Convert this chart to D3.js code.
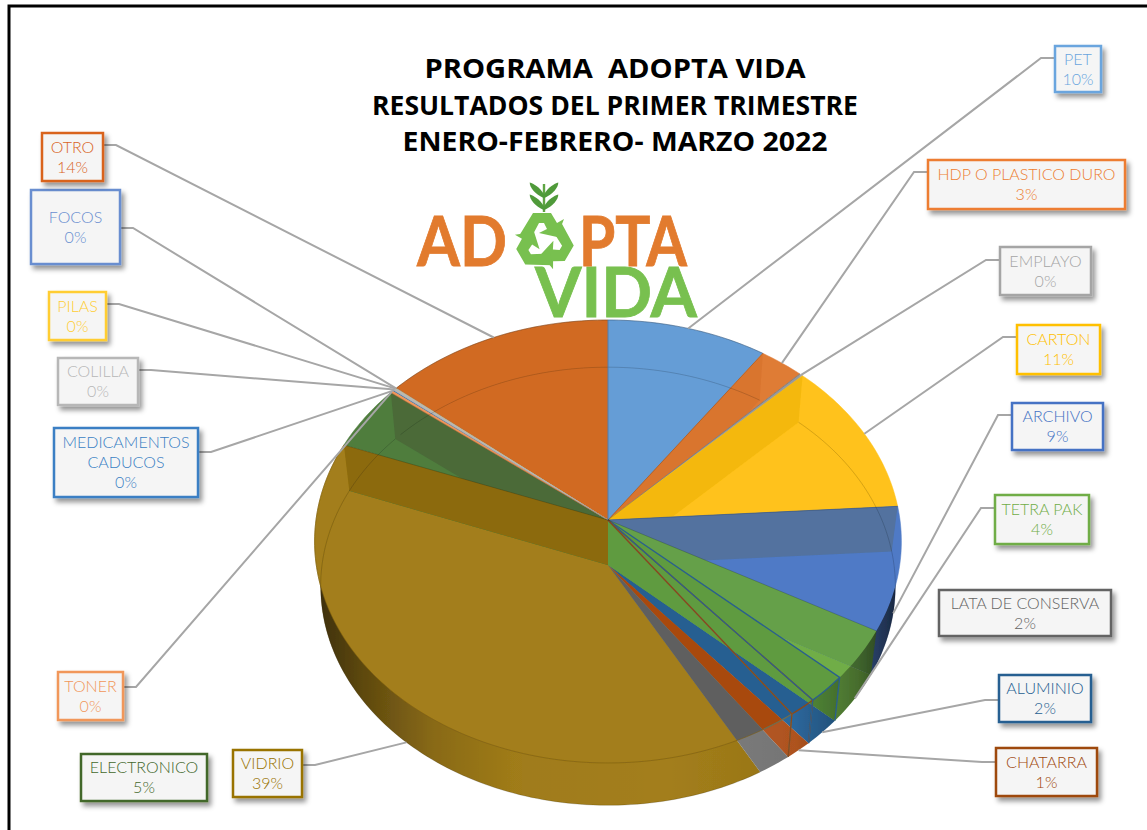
<!DOCTYPE html>
<html><head><meta charset="utf-8">
<script src="https://cdn.jsdelivr.net/npm/d3@7"></script>
<style>html,body{margin:0;padding:0;background:#fff;overflow:hidden}svg{display:block}</style>
</head><body><svg id="c" width="1147" height="830"></svg>
<script>
// ---- data ----
const categories = ["PET","HDP O PLASTICO DURO","EMPLAYO","CARTON","ARCHIVO","TETRA PAK","ALUMINIO","CHATARRA","LATA DE CONSERVA","VIDRIO","ELECTRONICO","TONER","MEDICAMENTOS CADUCOS","COLILLA","PILAS","FOCOS","OTRO"];
const values     = [9.7,2.7,0.2,11.4,9,3.7,2.05,1.4,1.75,38.85,4.8,0.15,0.1,0.15,0.025,0.025,14];
const labelLines = [["PET"],["HDP O PLASTICO DURO"],["EMPLAYO"],["CARTON"],["ARCHIVO"],["TETRA PAK"],["ALUMINIO"],["CHATARRA"],["LATA DE CONSERVA"],["VIDRIO"],["ELECTRONICO"],["TONER"],["MEDICAMENTOS","CADUCOS"],["COLILLA"],["PILAS"],["FOCOS"],["OTRO"]];
const edgeColors = ["#6AA5DE","#ED7D31","#A5A5A5","#FFC000","#4472C4","#70AD47","#255E91","#9E480E","#636363","#997300","#43682B","#F1975A","#3A7FC4","#B7B7B7","#FFCD33","#698ED0","#D9641F"];
const topColors  = ["#659DD6","#DF7B35","#A5A5A5","#FFC21A","#4F7AC6","#70AD47","#255E91","#A84A0E","#5F5F5F","#A37E1A","#4F7D3E","#F1975A","#2E75B6","#B7B7B7","#FFCD33","#698ED0","#D16B23"];
const sideColors = ["#659DD6","#DF7B35","#A5A5A5","#FFC21A","#4F7AC6","#70AD47","#2F6FA8","#BD5A22","#7F7F7F","#A37E1A","#4F7D3E","#F1975A","#2E75B6","#B7B7B7","#FFCD33","#698ED0","#D16B23"];
const wallColors = ["#5F97D0","#D9752F","#9A9A9A","#F4B80F","#52729F","#65A048","#5E9B3F",null,null,"#8C6A0B","#4B6B38",null,null,null,null,null,null];
const lineColors = [null,null,null,null,null,"#2F6A80","#2A5F8F","#8A4A1C","#6E6E50","#7A5C10",null,null,null,null,null,null,null];
// label boxes: x0,y0,x1,y1
const labelBoxes = [[1055,46,1101,92],[928,160,1125,209],[1000,247,1091,295],[1017,325,1100,374],[1012,403,1103,450],[995,495,1089,544],[999,675,1091,722],[996,748,1097,796],[939,590,1111,636],[233,750,302,797],[81,754,207,801],[58,672,123,720],[54,428,198,497],[58,358,138,405],[49,292,106,340],[31,190,120,264],[42,133,103,181]];
const leaderDrop = [12,12,13,12,12,13,25,14,0,15,0,15,24,12,12,38,12];
const hasLeader  = [1,1,1,1,1,1,1,1,0,1,0,1,1,1,1,1,1];
const titleLines = ["PROGRAMA  ADOPTA VIDA","RESULTADOS DEL PRIMER TRIMESTRE","ENERO-FEBRERO- MARZO 2022"];
const titleWidths = [381,486,425];

// ---- projection of the tilted transparent disc ----
const topRim = {cx:608,cy:520,R:292,ry:219.4,k:0.097};
const botRim = {cx:608,cy:565,R:286,ry:217,k:0.097};
const proj = (g,a)=>{const X=Math.sin(a),Z=Math.cos(a),d=1+g.k*Z;return [g.cx+g.R*X/d,g.cy-g.ry*Z/d];};
const arcPts = (g,a0,a1)=>{const n=Math.max(2,Math.ceil(Math.abs(a1-a0)/0.02));return d3.range(n+1).map(i=>proj(g,a0+(a1-a0)*i/n));};
const line = d3.line();
const wedge = (g,a0,a1)=>line([[g.cx,g.cy],...arcPts(g,a0,a1)])+"Z";
const ring = g=>line(arcPts(g,0,2*Math.PI))+"Z";

const arcs = d3.pie().sort(null).value(d=>d)(values);
const svg = d3.select("#c");
const defs = svg.append("defs");
const f = defs.append("filter").attr("id","sh").attr("x","-20%").attr("y","-20%").attr("width","150%").attr("height","150%");
f.append("feDropShadow").attr("dx",3).attr("dy",4).attr("stdDeviation",2.5).attr("flood-color","#000").attr("flood-opacity",.42);
defs.append("filter").attr("id","bl").append("feGaussianBlur").attr("stdDeviation",.45);
defs.append("clipPath").attr("id","inTop").append("path").attr("d",ring(topRim));
defs.append("clipPath").attr("id","outTop").append("path").attr("clip-rule","evenodd").attr("d","M0,0H1147V830H0Z"+ring(topRim));
const grad = defs.append("linearGradient").attr("id","sideG").attr("gradientUnits","userSpaceOnUse").attr("x1",318).attr("x2",900).attr("y1",0).attr("y2",0);
[[0,.62],[.08,.42],[.2,.16],[.34,.02],[.6,0],[.82,.08],[.93,.38],[1,.7]].forEach(s=>grad.append("stop").attr("offset",s[0]).attr("stop-color","#000").attr("stop-opacity",s[1]));

// frame
svg.append("path").attr("d","M9,830V6H1147").attr("fill","none").attr("stroke","#000").attr("stroke-width",3);

// ---- pie ----
const pie = svg.append("g").attr("filter","url(#bl)");
const paintFloor = i=>{
  const a=arcs[i];
  pie.append("path").attr("d",wedge(botRim,a.startAngle,a.endAngle)).attr("fill",sideColors[i]);
  pie.append("path").attr("d",wedge(botRim,a.startAngle,a.endAngle)).attr("fill",topColors[i]).attr("clip-path","url(#inTop)");
};
const paintTop = i=>{const a=arcs[i];pie.append("path").attr("d",wedge(topRim,a.startAngle,a.endAngle)).attr("fill",topColors[i]).attr("stroke",topColors[i]).attr("stroke-width",.5);};
const wallAt = (a,color)=>{const t=proj(topRim,a),b=proj(botRim,a);
  pie.append("path").attr("d",line([[topRim.cx,topRim.cy],t,b,[botRim.cx,botRim.cy]])+"Z").attr("fill",color);};

// vidrio first, then the far-left slices from back to front
paintTop(9); paintFloor(9);
[16,15,14,13,12,11,10].forEach(i=>{paintFloor(i);});
[16,15,14,13,12,11,10].forEach(i=>{paintTop(i);});
wallAt(arcs[10].endAngle,wallColors[10]);
// thin toner / colilla strips stay on top of the neighbouring wall edge
[11,13].forEach(paintTop);
wallAt(arcs[9].endAngle,wallColors[9]);
// right side from back to front
[0,1,2,3,4].forEach(i=>{paintTop(i);paintFloor(i);
  if(i>0) wallAt(arcs[i].startAngle,wallColors[i]);});
[5,6,7,8].forEach(paintFloor);
wallAt(arcs[5].startAngle,wallColors[5]);
wallAt(arcs[6].startAngle,wallColors[6]);

// dark shading on the outer side of the disc
pie.append("g").attr("clip-path","url(#outTop)").append("path").attr("d",ring(botRim)).attr("fill","url(#sideG)");

// thin rim lines
const rimStroke=(g,i,o)=>{const a=arcs[i];pie.append("path").attr("d",line(arcPts(g,a.startAngle,a.endAngle))).attr("fill","none").attr("stroke","#000").attr("stroke-opacity",o).attr("stroke-width",1);};
[0,3,4,9,10,16].forEach(i=>rimStroke(botRim,i,.16));
[16,0].forEach(i=>rimStroke(topRim,i,.25));
// outlines of the front slices
[5,6,7,8,9].forEach(i=>{
  const a=arcs[i],c=lineColors[i],t=proj(topRim,a.startAngle),b=proj(botRim,a.startAngle);
  if(i>5&&i<9){
    pie.append("path").attr("d",line([[topRim.cx,topRim.cy],t,b])).attr("fill","none").attr("stroke",c).attr("stroke-width",1.3);
  }
  if(i>5) pie.append("path").attr("d",line(arcPts(topRim,a.startAngle,a.endAngle))).attr("fill","none").attr("stroke",c).attr("stroke-width",i==9?.8:1.3).attr("stroke-opacity",i==9?.75:1);
});
// end of aluminio and chatarra
[6,7].forEach(i=>{const a=arcs[i],t=proj(topRim,a.endAngle),b=proj(botRim,a.endAngle);
  pie.append("path").attr("d",line([[topRim.cx,topRim.cy],t,b])).attr("fill","none").attr("stroke",lineColors[i]).attr("stroke-width",1.2);});
// soft radial edges
[0,1,3,4,9,10].forEach(i=>{const t=proj(topRim,arcs[i].endAngle);
  pie.append("path").attr("d",line([[topRim.cx,topRim.cy],t])).attr("fill","none").attr("stroke","#000").attr("stroke-opacity",.18).attr("stroke-width",1);});
pie.append("path").attr("d",line([[topRim.cx,topRim.cy-200],[topRim.cx,topRim.cy]])).attr("stroke","#4d6f99").attr("stroke-opacity",.7).attr("stroke-width",1);

// ---- logo ----
const logo = svg.append("g");
const logoFont = "Lato, 'Open Sans', sans-serif";
const orange="#E27B2E", green="#78C04F";
const logoText=(t,x,y,w,c)=>logo.append("text").attr("x",x).attr("y",y).attr("font-family",logoFont).attr("font-weight",700)
  .attr("font-size",69).attr("fill",c).attr("stroke",c).attr("stroke-width",.8).attr("textLength",w).attr("lengthAdjust","spacingAndGlyphs").text(t);
logoText("VIDA",535,317,162,green);
logoText("AD",417,266,90,orange);
logoText("PTA",579,266,108,orange);
const rec = logo.append("g").attr("transform","translate(544,241)");
[0,120,240].forEach(r=>rec.append("path").attr("transform",`rotate(${r})`).attr("fill",green)
  .attr("d","M-25,-5L-11,-28H7L13,-18L20,-22L13,-4L-5,-8L3,-12L0,-18H-5L-14,-1Z"));
const sp = logo.append("g").attr("fill","#4F9A3A");
sp.append("rect").attr("x",542.8).attr("y",184).attr("width",2.4).attr("height",28).attr("fill","#5FA544");
[[-1,191],[1,191],[-1,203],[1,203]].forEach(p=>sp.append("path")
  .attr("transform",`translate(544,${p[1]}) scale(${p[0]*1.3},1.2)`).attr("d","M0,3C3,-3 8,-6 11,-7C11,-3 7,3 0,6Z"));

// ---- title ----
svg.append("g").selectAll("text").data(titleLines).join("text")
  .attr("x",615).attr("y",(d,i)=>78+i*36.5).attr("text-anchor","middle")
  .attr("font-family","'Open Sans',sans-serif").attr("font-weight",700).attr("font-size",27)
  .attr("textLength",(d,i)=>titleWidths[i]).attr("lengthAdjust","spacingAndGlyphs")
  .style("white-space","pre").attr("fill","#000").text(d=>d);

// ---- leaders ----
const leaders = svg.append("g").attr("fill","none").attr("stroke","#A6A6A6").attr("stroke-width",2);
arcs.forEach((a,i)=>{
  if(!hasLeader[i]) return;
  const mid=(a.startAngle+a.endAngle)/2, frac=mid/(2*Math.PI);
  const g=(frac>.25&&frac<.75)?botRim:topRim, p=proj(g,mid), b=labelBoxes[i];
  const right=b[0]>608, sx=right?b[0]:b[2], ky=b[1]+leaderDrop[i];
  leaders.append("path").attr("d",line([[sx,ky],[sx+(right?-14:13),ky],p]));
});

// ---- labels ----
const lab = svg.append("g");
arcs.forEach((a,i)=>{
  const b=labelBoxes[i],cx=(b[0]+b[2])/2,cy=(b[1]+b[3])/2,c=edgeColors[i];
  lab.append("rect").attr("x",b[0]).attr("y",b[1]).attr("width",b[2]-b[0]).attr("height",b[3]-b[1])
    .attr("fill","#F5F5F5").attr("stroke",c).attr("stroke-width",2.5).attr("filter","url(#sh)");
  const ls=[...labelLines[i],Math.round(values[i])+"%"];
  ls.forEach((t,j)=>lab.append("text").attr("x",cx).attr("y",cy+(j-(ls.length-1)/2)*20+5.5)
    .attr("text-anchor","middle").attr("font-family","Lato,'Open Sans',sans-serif").attr("font-weight",300).attr("font-size",16)
    .attr("fill",c).text(t));
});
</script></body></html>
